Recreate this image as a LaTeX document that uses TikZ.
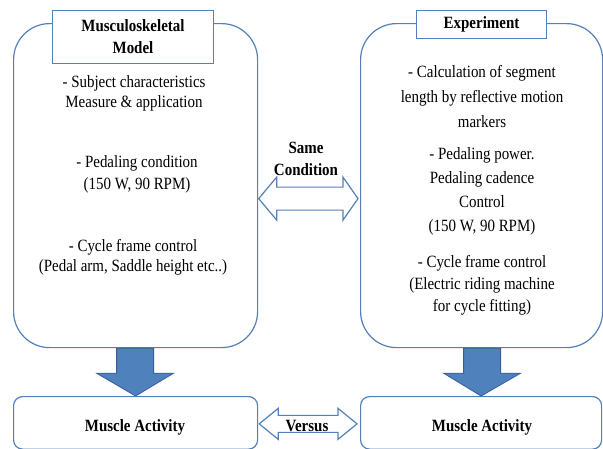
\documentclass[tikz,border=0pt]{standalone}
\usepackage{fontspec}
\setmainfont{Liberation Serif}[FakeStretch=0.87]
\usetikzlibrary{calc}
\definecolor{boxblue}{RGB}{84,128,186}
\definecolor{arrowfill}{RGB}{79,129,189}
\definecolor{arrowline}{RGB}{56,93,150}
\newcommand{\txtsize}[1]{\fontsize{17.2}{#1}\selectfont}
\tikzset{
  bigbox/.style={draw=boxblue, line width=1.2pt, rounded corners=36pt, fill=white},
  resbox/.style={draw=boxblue, line width=1.2pt, rounded corners=9pt, fill=white},
  titlebox/.style={draw=boxblue, line width=1pt, fill=white},
  para/.style={align=center, inner sep=0pt},
  downarrow/.style={fill=arrowfill, draw=arrowline, line width=0.8pt, line join=miter},
  twoarrow/.style={fill=white, draw=boxblue, line width=1.2pt, line join=miter},
  lbl/.style={font=\bfseries\txtsize{22}, align=center, inner sep=0pt}
}
\begin{document}
\begin{tikzpicture}[x=1pt,y=-1pt]
\useasboundingbox (0,0) rectangle (603,448);

% big boxes
\node[bigbox, minimum width=244pt, minimum height=324pt, anchor=north west] (Lbox) at (13,23) {};
\node[bigbox, minimum width=242pt, minimum height=324pt, anchor=north west] (Rbox) at (360,23) {};

% result boxes
\node[resbox, minimum width=244pt, minimum height=52.5pt, anchor=north west] (Lres) at (13,396) {};
\node[resbox, minimum width=241pt, minimum height=52.5pt, anchor=north west] (Rres) at (360,396) {};

% title boxes
\node[titlebox, minimum width=161pt, minimum height=53pt, anchor=north west] (Ltitle) at (52,10) {};
\node[lbl] (Ltitletext) at (Ltitle.center) {Musculoskeletal\\Model};
\node[titlebox, minimum width=130pt, minimum height=28pt, anchor=north west] (Rtitle) at (416,10) {};
\node[lbl] (Rtitletext) at (Rtitle.center) {Experiment};

% left texts
\node[para, font=\txtsize{20}] (l1) at (134,93) {- Subject characteristics\\Measure \& application};
\node[para, font=\txtsize{22}] (l2) at (137,174) {- Pedaling condition\\(150 W, 90 RPM)};
\node[para, font=\txtsize{20}] (l3) at (133,257) {- Cycle frame control\\(Pedal arm, Saddle height etc..)};

% right texts
\node[para, font=\txtsize{25}] (r1) at (482,97) {- Calculation of segment\\length by reflective motion\\markers};
\node[para, font=\txtsize{24}] (r2) at (482,191) {- Pedaling power.\\Pedaling cadence\\Control\\(150 W, 90 RPM)};
\node[para, font=\txtsize{22}] (r3) at (482,285) {- Cycle frame control\\(Electric riding machine\\for cycle fitting)};

% result labels
\node[lbl] (Llab) at (135,427) {Muscle Activity};
\node[lbl] (Rlab) at (482,427) {Muscle Activity};

% down arrows
\draw[downarrow] ($(Lbox.south)+(-19,0)$) -- ++(37,0) -- ++(0,25) -- ++(20,0)
  -- (Lres.north) -- ($(Lbox.south)+(-39,25)$) -- ++(20,0) -- cycle;
\draw[downarrow] ($(Rbox.south)+(-18,0)$) -- ++(37,0) -- ++(0,25) -- ++(20,0)
  -- (Rres.north) -- ($(Rbox.south)+(-38,25)$) -- ++(20,0) -- cycle;

% same condition double arrow
\coordinate (sL) at ($(Lbox.east)+(0.5,13)$);
\coordinate (sR) at ($(Rbox.west)+(-2,13)$);
\draw[twoarrow] (sL) -- ++(18,-21.5) -- ++(0,10) -- ($(sR)+(-15,-11.5)$) -- ++(0,-10)
  -- (sR) -- ++(-15,21.5) -- ++(0,-10) -- ($(sL)+(18,11.5)$) -- ++(0,10) -- cycle;
\node[lbl] (same) at (306,159) {Same\\Condition};

% versus double arrow
\coordinate (vL) at ($(Lres.east)+(1,1)$);
\coordinate (vR) at ($(Rres.west)+(-3,1)$);
\draw[twoarrow] (vL) -- ++(19,-15.5) -- ++(0,7) -- ($(vR)+(-19,-8.5)$) -- ++(0,-7)
  -- (vR) -- ++(-19,15.5) -- ++(0,-7) -- ($(vL)+(19,8.5)$) -- ++(0,7) -- cycle;
\node[lbl] (versus) at (307,426) {Versus};
\end{tikzpicture}
\end{document}
